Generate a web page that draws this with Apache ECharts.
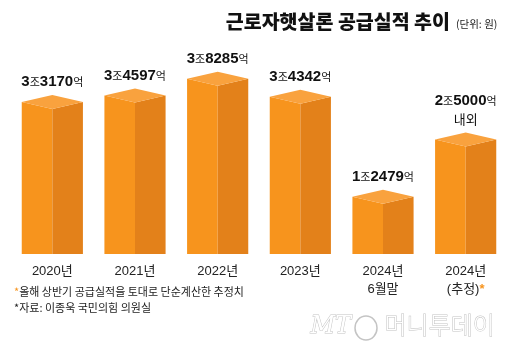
<!DOCTYPE html>
<html>
<head>
<meta charset="utf-8">
<script src="https://cdn.jsdelivr.net/npm/echarts@6/dist/echarts.min.js"></script>
<style>
  html, body { margin: 0; padding: 0; background: #fff; }
  #chart { width: 520px; height: 351px; }
</style>
</head>
<body>
<div id="chart"></div>
<script>
// 근로자햇살론 공급실적 (단위: 조원)
var categories = ['2020년', '2021년', '2022년', '2023년', '2024년\n6월말', '2024년\n(추정){o|*}'];
var values = [3.3170, 3.4597, 3.8285, 3.4342, 1.2479, 2.5000];
var labelNotes = ['', '', '', '', '', '내외'];
var footnotes = ['올해 상반기 공급실적을 토대로 단순계산한 추정치', '자료: 이종욱 국민의힘 의원실'];

var KR = '"Noto Sans CJK KR", "Noto Sans", sans-serif';
var NUM = '"Liberation Sans", Arial, ' + KR;
var ORANGE = '#F7941D';

// 3조3170억 형식
function fmt(v) {
  var jo = Math.floor(v);
  var eok = Math.round((v - jo) * 10000);
  return '{d|' + jo + '}{s|조}{d|' + eok + '}{s|억}';
}

var chart = echarts.init(document.getElementById('chart'));

function renderItem(params, api) {
  var i = params.dataIndex;
  var top = api.coord([api.value(0), api.value(1)]);
  var base = api.coord([api.value(0), 0]);
  var hw = api.size([1, 0])[0] * 0.37;
  var cx = top[0], y = top[1], by = base[1];
  var d = 7;
  var txt = fmt(values[i]);
  if (labelNotes[i]) txt += '\n{n|' + labelNotes[i] + '}';
  return {
    type: 'group',
    children: [
      { type: 'polygon', shape: { points: [[cx - hw, y], [cx, y + d], [cx, by], [cx - hw, by]] },
        style: { fill: '#F7941D' } },
      { type: 'polygon', shape: { points: [[cx, y + d], [cx + hw, y], [cx + hw, by], [cx, by]] },
        style: { fill: '#E3811A' } },
      { type: 'polygon', shape: { points: [[cx - hw, y], [cx, y - d], [cx + hw, y], [cx, y + d]] },
        style: { fill: '#F9A23E' } },
      { type: 'text', style: {
          x: cx, y: y - d - 4, text: txt, align: 'center', verticalAlign: 'bottom',
          rich: {
            d: { fontFamily: NUM, fontWeight: 'bold', fontSize: 15, fill: '#111', lineHeight: 18 },
            s: { fontFamily: KR, fontSize: 11, fill: '#111', lineHeight: 18 },
            n: { fontFamily: KR, fontSize: 13, fill: '#111', lineHeight: 19 }
          }
        } }
    ]
  };
}

var option = {
  backgroundColor: '#fff',
  animation: false,
  grid: { left: 11, right: 13, top: 25, bottom: 97 },
  xAxis: {
    type: 'category',
    data: categories,
    axisLine: { show: false },
    axisTick: { show: false },
    axisLabel: {
      interval: 0, margin: 8, fontSize: 13, lineHeight: 18, color: '#222',
      fontFamily: NUM,
      rich: { o: { color: ORANGE, fontSize: 13, fontWeight: 'bold', lineHeight: 18 } }
    }
  },
  yAxis: { type: 'value', min: 0, max: 5, show: false },
  series: [{
    type: 'custom',
    renderItem: renderItem,
    data: values.map(function (v, i) { return [i, v]; })
  }],
  graphic: [
    { type: 'text', right: 70, top: 12, style: {
        text: '근로자햇살론 공급실적 추이', fontFamily: KR, fontWeight: 900, fontSize: 19.5, fill: '#111' } },
    { type: 'text', left: 456, top: 19, style: {
        text: '(단위: 원)', fontFamily: KR, fontSize: 10.5, fill: '#222' } },
    { type: 'text', left: 14, top: 286, style: {
        text: '{o|*}' + footnotes[0], fontFamily: KR, fontSize: 11, fill: '#222',
        rich: { o: { fill: ORANGE, fontSize: 11, fontFamily: KR } } } },
    { type: 'text', left: 14, top: 302, style: {
        text: '*' + footnotes[1], fontFamily: KR, fontSize: 11, fill: '#222' } },
    // 워터마크
    { type: 'text', left: 310, top: 314, style: {
        text: 'MT', fontFamily: '"DejaVu Serif", serif', fontStyle: 'italic', fontSize: 24,
        fill: '#fff', stroke: '#c4c4c4', lineWidth: 1 } },
    { type: 'ellipse', shape: { cx: 366, cy: 328, rx: 11, ry: 12 },
      style: { fill: 'none', stroke: '#c4c4c4', lineWidth: 1.5 } },
    { type: 'text', left: 384, top: 312, style: {
        text: '머니투데이', fontFamily: KR, fontWeight: 300, fontSize: 24,
        fill: '#fff', stroke: '#c4c4c4', lineWidth: 1 } }
  ]
};

chart.setOption(option);
</script>
</body>
</html>
